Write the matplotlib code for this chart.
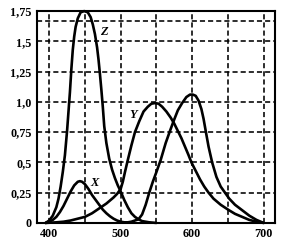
import matplotlib
matplotlib.use("Agg")
import matplotlib.pyplot as plt

# colour matching curves (wavelength nm, value)
x_wl = [395, 400, 405, 410, 415, 420, 425, 430, 435, 440, 443, 446, 450, 455,
        460, 465, 470, 475, 480, 485, 490, 495, 500, 505, 510, 515, 520, 525,
        530, 535, 540, 545, 550, 556, 563, 569, 574, 580, 586, 592, 597, 601,
        605, 609, 613, 616, 619, 623, 628, 634, 640, 646, 652, 660, 670, 680,
        690, 698, 700]
x_val = [0.0, 0.01, 0.025, 0.05, 0.09, 0.14, 0.20, 0.26, 0.31, 0.34, 0.345,
         0.34, 0.32, 0.28, 0.23, 0.19, 0.15, 0.11, 0.08, 0.055, 0.035, 0.02,
         0.01, 0.005, 0.005, 0.01, 0.02, 0.03, 0.07, 0.15, 0.25, 0.34, 0.42,
         0.52, 0.66, 0.76, 0.84, 0.93, 0.99, 1.04, 1.06, 1.06, 1.05, 1.01,
         0.94, 0.86, 0.76, 0.63, 0.50, 0.38, 0.30, 0.25, 0.20, 0.15, 0.105,
         0.06, 0.025, 0.005, 0.0]

y_wl = [395, 410, 420, 430, 440, 450, 460, 470, 480, 490, 495, 500, 503, 506,
        510, 515, 520, 526, 532, 538, 543, 548, 553, 558, 564, 570, 575, 580,
        585, 590, 595, 599, 605, 611, 617, 623, 630, 640, 651, 660, 670, 680,
        690, 700]
y_val = [0.0, 0.005, 0.01, 0.02, 0.035, 0.05, 0.08, 0.12, 0.16, 0.21, 0.24,
         0.28, 0.34, 0.42, 0.52, 0.64, 0.75, 0.84, 0.92, 0.96, 0.985, 0.99,
         0.985, 0.96, 0.92, 0.87, 0.82, 0.76, 0.70, 0.63, 0.56, 0.50, 0.43,
         0.36, 0.30, 0.25, 0.20, 0.15, 0.107, 0.075, 0.05, 0.025, 0.01, 0.0]

z_wl = [395, 400, 405, 410, 413, 416, 419, 422, 425, 427, 429, 431, 433, 435,
        437, 440, 444, 449, 454, 458, 461, 464, 467, 469, 471, 473, 475, 477,
        480, 484, 488, 492, 496, 500, 505, 510, 515, 520, 525, 530, 540, 550]
z_val = [0.0, 0.02, 0.06, 0.13, 0.2, 0.3, 0.42, 0.56, 0.76, 0.92, 1.08, 1.27,
         1.43, 1.54, 1.62, 1.69, 1.74, 1.75, 1.74, 1.70, 1.64, 1.56, 1.45,
         1.35, 1.23, 1.10, 0.96, 0.80, 0.66, 0.53, 0.44, 0.37, 0.31, 0.26,
         0.19, 0.13, 0.08, 0.05, 0.03, 0.015, 0.005, 0.0]

x_ticks = [400, 500, 600, 700]
x_grid = [400, 450, 500, 550, 600, 650, 700]
y_ticks = [0, 0.25, 0.5, 0.75, 1.0, 1.25, 1.5, 1.75]
y_ticklabels = ["0", "0,25", "0,5", "0,75", "1,0", "1,25", "1,5", "1,75"]
extra_hline = 1.67

labels = ["X", "Y", "Z"]
label_pos = [(463, 0.33), (517, 0.89), (476, 1.58)]

fig = plt.figure(figsize=(2.85, 2.41), dpi=100)
ax = fig.add_axes([0.130, 0.075, 0.835, 0.879])

grid_kw = dict(color="black", lw=1.15, dashes=(3.2, 1.9), zorder=1)
for g in x_grid:
    ax.axvline(g, **grid_kw)
for g in y_ticks[1:-1] + [extra_hline]:
    ax.axhline(g, **grid_kw)

for wl, val in [(x_wl, x_val), (y_wl, y_val), (z_wl, z_val)]:
    ax.plot(wl, val, color="black", lw=1.9, zorder=3, clip_on=False,
            solid_capstyle="round")

for name, (lx, ly) in zip(labels, label_pos):
    ax.text(lx, ly, name, family="Liberation Serif", style="italic",
            weight="bold", fontsize=9, ha="center", va="center")

ax.set_xlim(383, 716)
ax.set_ylim(0, 1.75)
ax.set_xticks(x_ticks)
ax.set_yticks(y_ticks)
ax.set_yticklabels(y_ticklabels)
ax.tick_params(length=0, pad=4)
for lab in ax.get_xticklabels() + ax.get_yticklabels():
    lab.set_family("Liberation Serif")
    lab.set_weight("bold")
    lab.set_fontsize(8.7)
for sp in ax.spines.values():
    sp.set_linewidth(1.5)
    sp.set_zorder(4)

fig.savefig("out.png", dpi=100)
